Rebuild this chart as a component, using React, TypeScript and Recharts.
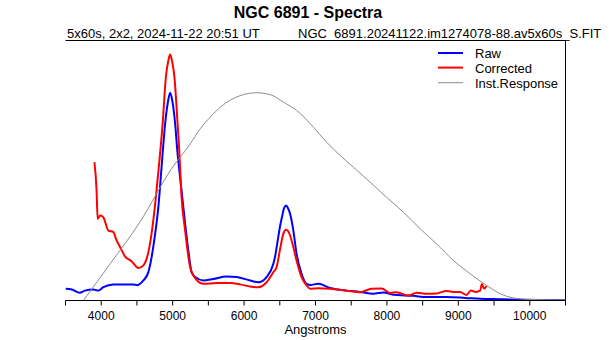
import { Legend, Line, LineChart, ReferenceLine, XAxis, YAxis } from "recharts";

const rawWave = [
  3500, 3590, 3700, 3770, 3890, 3960, 4030, 4170, 4310, 4450, 4505, 4590, 4660,
  4705, 4755, 4800, 4845, 4895, 4930, 4965, 4995, 5035, 5065, 5125, 5175, 5220,
  5265, 5315, 5430, 5570, 5755, 5895, 6085, 6200, 6315, 6410, 6435, 6465, 6500,
  6530, 6560, 6590, 6615, 6645, 6690, 6735, 6805, 6875, 6925, 7040, 7205, 7435,
  7625, 7810, 7950, 8090, 8370, 8555, 8835, 9095, 9305, 9585, 9865, 10215, 10500,
];
const rawFlux = [
  4.5, 4.2, 3.0, 3.8, 4.2, 3.8, 5.1, 6.2, 6.2, 6.2, 5.9, 7.7, 10.9,
  16.6, 25.7, 35.9, 51.3, 68.0, 75.7, 79.9, 76.9, 68.0, 57.7, 42.3, 29.5, 19.2,
  10.9, 9.0, 7.7, 8.3, 9.2, 9.0, 7.7, 7.0, 9.0, 14.1, 17.0, 22.0, 28.0,
  32.0, 35.5, 36.5, 35.5, 33.3, 26.9, 18.0, 10.3, 6.4, 6.0, 6.4, 4.8, 3.8,
  3.3, 2.6, 3.1, 2.2, 1.8, 1.3, 1.3, 1.0, 0.7, 0.5, 0.3, 0.2, 0.1,
];

const corrWave = [
  3905, 3935, 3950, 3985, 4030, 4100, 4170, 4215, 4265, 4335, 4425, 4520, 4590,
  4660, 4705, 4765, 4815, 4860, 4905, 4940, 4965, 4995, 5025, 5055, 5090, 5125,
  5175, 5245, 5290, 5430, 5615, 5805, 5945, 6085, 6200, 6315, 6410, 6455, 6505,
  6550, 6590, 6645, 6690, 6735, 6805, 6875, 6925, 7040, 7205, 7435, 7625, 7785,
  7925, 8045, 8135, 8300, 8415, 8555, 8695, 8835, 8955, 9025, 9115, 9175, 9245,
  9305, 9330, 9360, 9395,
];
const corrFlux = [
  53.2, 42.3, 31.4, 32.7, 32.0, 26.9, 26.3, 23.1, 20.5, 16.9, 15.1, 12.5, 13.5,
  18.6, 25.7, 39.7, 53.8, 68.0, 85.9, 92.3, 94.6, 91.7, 85.9, 74.3, 59.0, 39.7,
  26.9, 12.8, 9.6, 6.4, 6.7, 6.7, 6.2, 5.4, 5.1, 7.0, 10.9, 12.8, 19.9,
  25.7, 27.2, 25.0, 20.5, 15.4, 9.0, 5.8, 4.5, 4.7, 4.5, 3.8, 3.2, 4.5,
  4.6, 2.9, 3.2, 1.9, 3.0, 2.6, 2.7, 3.7, 3.3, 3.3, 2.1, 3.8, 3.3,
  3.8, 6.3, 4.6, 5.6,
];

const respWave = [
  3750, 4125, 4545, 4985, 5245, 5385, 5525, 5665, 5945, 6175, 6365, 6550, 6735,
  6970, 7155, 7345, 7530, 7765, 7995, 8230, 8465, 8695, 8930, 9165, 9395, 9585,
  9770, 10005, 10500,
];
const respFlux = [
  0, 14.1, 30.3, 50.7, 60.2, 66.0, 70.5, 74.3, 78.8, 79.9, 79.2, 76.3, 73.1,
  66.7, 60.9, 55.8, 51.3, 45.5, 39.7, 34.0, 27.6, 21.8, 15.4, 10.3, 5.8, 2.6,
  1.0, 0.4, 0.2,
];

const xTicks = [
  3500, 4000, 4500, 5000, 5500, 6000, 6500, 7000, 7500, 8000, 8500, 9000, 9500,
  10000, 10500,
];

const seriesOrder = ["Raw", "Corrected", "Inst.Response"];

const toPoints = (wave: number[], flux: number[]) =>
  wave.map((w, i) => ({ w, v: flux[i] }));

const rawData = toPoints(rawWave, rawFlux);
const corrData = toPoints(corrWave, corrFlux);
const respData = toPoints(respWave, respFlux);

function LegendBox(props: any) {
  const payload = [...(props.payload || [])].sort(
    (a: any, b: any) => seriesOrder.indexOf(a.value) - seriesOrder.indexOf(b.value)
  );
  return (
    <svg width={130} height={50} style={{ display: "block" }}>
      {payload.map((entry: any, i: number) => {
        const y = 9 + i * 14.6;
        const isGray = entry.value === "Inst.Response";
        return (
          <g key={entry.value}>
            <line
              x1={2}
              x2={27}
              y1={isGray ? y + 0.5 : y}
              y2={isGray ? y + 0.5 : y}
              stroke={entry.color}
              strokeWidth={isGray ? 1 : 2}
            />
            <text x={39} y={y + 5.3} fontSize={13} fill="#000">
              {entry.value}
            </text>
          </g>
        );
      })}
    </svg>
  );
}

export default function App() {
  return (
    <div
      style={{
        position: "absolute",
        left: 0,
        top: 0,
        width: 615,
        height: 340,
        background: "#fff",
        fontFamily: "'Liberation Sans', Arial, sans-serif",
      }}
    >
      <LineChart
        width={615}
        height={340}
        margin={{ top: 40.5, right: 49.5, bottom: 0, left: 65.5 }}
      >
        <XAxis
          dataKey="w"
          type="number"
          domain={[3500, 10500]}
          ticks={xTicks}
          interval={0}
          allowDataOverflow
          height={39.5}
          tickSize={5}
          tickMargin={6}
          tickFormatter={(v: number) => (v % 1000 === 0 ? String(v) : "")}
          tick={{ fill: "#000", fontSize: 12 }}
          tickLine={{ stroke: "#000" }}
          axisLine={{ stroke: "#000" }}
          label={{
            value: "Angstroms",
            position: "insideBottom",
            offset: 6,
            fill: "#000",
            fontSize: 13,
          }}
        />
        <YAxis
          type="number"
          domain={[0, 100]}
          allowDataOverflow
          width={0}
          tick={false}
          tickLine={false}
          axisLine={{ stroke: "#000" }}
        />
        {/* frame: top and right edges */}
        <ReferenceLine y={100} stroke="#000" strokeWidth={1} />
        <ReferenceLine x={10500} stroke="#000" strokeWidth={1} />
        <Line
          data={rawData}
          dataKey="v"
          name="Raw"
          type="monotone"
          stroke="#0000ff"
          strokeWidth={2}
          dot={false}
          isAnimationActive={false}
        />
        <Line
          data={corrData}
          dataKey="v"
          name="Corrected"
          type="monotone"
          stroke="#ff0000"
          strokeWidth={2}
          dot={false}
          isAnimationActive={false}
        />
        <Line
          data={respData}
          dataKey="v"
          name="Inst.Response"
          type="monotone"
          stroke="#8c8c8c"
          strokeWidth={1}
          dot={false}
          isAnimationActive={false}
        />
        <Legend
          layout="vertical"
          align="center"
          verticalAlign="middle"
          itemSorter={null as any}
          wrapperStyle={{ left: 436, top: 44, width: 130, height: 50 }}
          content={(p: any) => <LegendBox {...p} />}
        />
      </LineChart>
      <svg
        width={615}
        height={340}
        style={{ position: "absolute", left: 0, top: 0, pointerEvents: "none" }}
      >
        <text
          x={308}
          y={17.5}
          textAnchor="middle"
          fontSize={16}
          fontWeight="bold"
          fill="#000"
        >
          NGC 6891 - Spectra
        </text>
        <text x={67} y={37.5} fontSize={13} fill="#000">
          5x60s, 2x2, 2024-11-22 20:51 UT
        </text>
        <text x={298} y={37.5} fontSize={13} fill="#000">
          NGC_6891.20241122.im1274078-88.av5x60s_S.FIT
        </text>
      </svg>
    </div>
  );
}
